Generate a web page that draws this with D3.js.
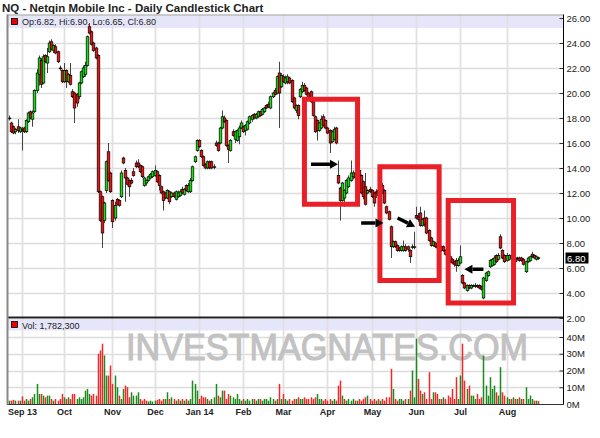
<!DOCTYPE html>
<html><head><meta charset="utf-8">
<script src="https://cdn.jsdelivr.net/npm/d3@7"></script>
<style>body{margin:0;background:#fff;} svg{display:block;font-family:"Liberation Sans",Arial,sans-serif;}</style>
</head><body><svg id="c" width="600" height="438"></svg>
<script>
const chartTitle = "NQ - Netqin Mobile Inc - Daily Candlestick Chart";
const opens = [18.0,17.6,17.3,16.9,17.3,16.9,17.1,17.2,16.9,17.7,
18.5,17.9,18.5,20.2,21.5,22.6,20.8,23.0,22.4,23.3,
24.1,23.4,23.7,23.3,22.0,21.8,20.9,21.8,20.9,21.4,
20.1,20.0,19.9,19.7,20.8,21.3,21.5,22.2,25.3,24.9,
24.0,23.6,23.0,12.1,11.7,9.8,12.2,15.3,13.6,11.4,
10.0,11.5,11.4,11.7,14.8,13.8,13.2,13.0,13.0,13.7,
14.4,14.4,14.2,14.1,12.6,12.8,13.0,13.2,13.3,13.4,
13.7,13.4,12.5,12.1,12.0,11.6,12.1,11.7,12.0,11.5,
11.7,11.8,12.3,11.9,12.6,12.1,12.1,13.0,14.5,15.4,
16.2,15.4,14.9,14.3,14.0,14.5,14.5,14.1,16.0,16.0,
16.0,17.2,18.0,17.8,15.8,15.4,16.9,16.3,16.2,16.5,
17.2,17.3,17.0,17.1,17.6,17.9,18.3,18.0,18.1,18.5,
18.3,18.5,19.0,19.1,18.8,19.7,20.2,20.0,21.6,20.5,
21.3,20.8,20.9,21.2,21.0,19.6,18.6,19.0,19.7,20.1,
20.6,20.4,20.0,20.1,19.3,18.1,17.8,17.0,17.2,18.1,
17.8,17.2,17.0,16.1,16.3,17.2,13.4,12.4,11.4,11.6,
12.0,12.5,13.0,13.3,13.6,13.2,13.8,13.4,12.9,12.5,
12.0,12.3,12.2,12.0,12.1,12.2,11.2,12.6,12.2,10.9,
10.5,9.3,7.7,8.1,7.8,7.6,7.4,7.4,7.7,7.7,
7.4,7.7,7.7,10.2,10.1,10.4,9.4,10.0,10.0,9.0,
8.4,7.8,8.0,7.9,7.6,7.7,7.7,7.4,7.2,6.9,
6.7,6.5,6.6,6.2,6.4,5.4,4.8,4.2,4.6,4.4,
4.6,4.6,4.6,4.6,4.5,3.6,5.0,5.4,6.1,6.2,
6.3,7.0,6.7,8.5,7.4,7.0,6.6,6.7,7.0,6.9,
6.8,6.8,6.8,6.8,6.7,5.7,6.5,6.6,7.1,7.0,
6.7,6.82];
const highs = [18.2,17.7,17.4,17.2,17.9,17.3,17.3,17.3,17.9,18.5,
18.6,18.6,20.3,21.9,23.0,22.8,23.1,23.1,23.6,24.2,
24.3,23.9,23.9,23.4,22.2,21.9,22.4,21.9,21.6,22.4,
20.3,20.1,20.0,20.9,21.8,22.2,22.5,24.6,25.6,25.0,
24.1,23.7,23.1,12.2,11.8,11.3,14.6,16.0,13.7,11.5,
11.3,11.6,11.5,13.8,14.9,14.0,13.3,13.1,13.2,14.0,
14.6,14.7,14.3,14.2,13.3,13.1,13.4,13.6,13.8,14.2,
13.8,13.5,12.6,12.2,12.1,12.3,12.2,12.1,12.1,12.2,
12.2,12.3,12.5,12.4,12.7,12.8,13.2,14.2,15.0,16.3,
16.3,15.5,15.0,14.4,14.6,14.6,14.6,14.3,16.2,16.1,
17.3,18.6,18.2,17.9,15.9,16.3,17.1,17.0,17.1,17.4,
17.8,17.4,17.5,17.8,18.2,18.3,18.4,18.4,18.6,18.6,
18.8,18.9,19.1,19.3,19.8,20.1,20.4,21.4,22.5,21.6,
21.5,21.4,21.5,21.3,21.1,19.7,19.1,19.1,20.4,20.9,
20.8,20.5,20.1,20.2,19.4,18.2,17.9,17.7,18.2,18.3,
17.9,17.3,17.1,17.0,17.3,17.3,14.6,12.5,12.9,12.3,
13.1,13.4,14.6,13.8,13.8,14.0,14.1,13.5,13.0,13.6,
12.3,12.5,12.3,12.1,12.3,12.4,12.3,12.8,12.3,11.0,
10.6,9.4,8.2,8.2,7.9,7.7,7.8,8.2,7.9,7.8,
7.5,7.9,8.9,10.9,10.4,10.9,10.0,10.6,10.1,9.1,
8.5,8.2,8.1,8.0,7.8,7.8,7.8,7.5,7.3,7.0,
6.8,6.6,6.8,6.8,7.8,5.5,4.9,4.7,4.7,4.7,
4.7,4.8,4.7,4.7,4.6,5.3,5.7,5.8,6.7,6.8,
7.0,7.1,7.2,8.7,7.5,7.1,7.2,7.1,7.1,7.1,
6.9,6.9,6.9,6.9,6.8,6.6,6.9,7.0,7.3,7.1,
7.0,6.90];
const lows = [17.8,16.8,16.7,16.7,16.8,16.8,15.4,16.8,16.8,17.6,
17.9,17.3,18.4,20.0,20.6,20.4,20.7,22.4,21.6,23.2,
23.4,23.2,23.1,22.4,21.8,20.8,20.8,20.4,20.8,20.6,
19.6,17.6,18.9,19.5,20.7,21.2,21.3,22.1,24.7,23.8,
23.3,22.7,12.0,9.7,7.6,9.6,12.0,12.9,12.0,9.2,
9.8,11.0,10.9,11.6,14.3,11.3,12.6,11.7,12.7,13.3,
14.0,14.0,13.6,13.2,12.5,12.6,12.9,13.1,13.2,13.3,
12.8,12.2,11.9,10.6,11.5,11.5,11.1,11.6,11.6,11.4,
11.6,11.7,11.9,11.8,12.1,12.0,12.0,12.9,14.4,15.3,
15.6,14.8,14.1,13.9,13.9,13.9,13.9,13.9,15.7,15.3,
15.9,17.1,17.6,15.7,14.4,15.3,16.5,16.0,16.1,15.9,
17.1,16.8,16.6,17.0,17.5,17.7,17.9,17.9,18.0,18.1,
18.2,18.4,18.7,18.8,18.7,19.6,19.8,19.9,17.2,20.4,
20.8,20.7,20.7,20.7,19.2,18.7,18.4,17.9,19.6,20.0,
20.1,19.8,19.4,19.2,18.1,16.8,16.2,16.9,17.1,17.3,
17.1,16.7,15.2,16.0,16.2,15.9,12.7,9.8,11.3,10.9,
11.9,12.4,12.9,13.1,13.0,13.0,13.3,11.9,11.5,11.0,
11.9,12.0,11.6,10.9,11.6,11.6,11.1,11.9,11.1,10.3,
9.8,6.8,7.6,7.6,7.3,7.3,7.3,7.3,7.3,7.3,
6.4,7.5,7.5,9.9,9.7,9.3,9.3,9.3,8.7,8.1,
7.7,7.7,7.6,7.5,7.4,7.3,7.3,7.0,6.9,6.4,
6.3,6.1,5.7,6.1,6.3,4.7,4.3,4.1,4.3,4.3,
4.5,4.4,4.4,4.3,4.2,3.5,4.9,5.3,6.0,6.1,
6.2,6.4,6.6,7.5,6.7,6.4,6.5,6.6,6.7,6.7,
6.4,6.6,6.5,6.5,6.2,5.6,6.4,6.5,6.8,6.7,
6.6,6.65];
const closes = [18.0,16.9,16.8,17.1,17.0,17.2,17.0,16.9,17.8,18.4,
18.0,18.4,20.2,21.6,22.8,20.7,22.9,22.5,22.9,24.0,
23.5,23.8,23.2,22.5,22.0,20.9,21.8,20.9,21.5,20.7,
19.7,18.8,19.2,20.8,21.7,22.0,22.2,24.5,24.8,23.9,
23.4,22.8,12.1,9.8,8.8,11.2,14.5,13.0,12.1,9.7,
11.0,11.1,11.0,13.6,14.4,13.2,12.7,12.5,12.8,13.4,
14.1,14.1,13.7,13.3,13.2,13.0,13.3,13.5,13.7,13.8,
12.9,12.6,12.0,11.4,11.6,12.2,11.3,12.0,11.7,12.1,
12.0,12.1,12.0,12.3,12.2,12.6,13.0,14.1,14.9,16.2,
15.7,14.9,14.2,14.0,14.5,14.0,14.0,14.1,15.8,15.4,
17.2,18.1,17.7,15.8,15.5,16.2,16.6,16.9,17.0,17.2,
17.6,16.9,17.4,17.7,18.1,18.2,18.0,18.3,18.5,18.2,
18.7,18.8,18.8,18.9,19.7,20.0,19.9,21.3,20.0,21.4,
20.9,21.2,21.3,20.8,19.3,18.8,19.0,18.2,20.3,20.6,
20.2,19.9,19.5,19.3,18.2,16.9,17.0,17.6,17.9,17.4,
17.2,16.8,16.0,16.9,17.1,16.0,12.8,11.4,12.8,12.2,
13.0,13.2,13.6,13.6,13.2,13.8,13.4,12.0,11.7,11.1,
12.2,12.1,11.7,11.2,12.0,11.8,12.2,12.0,11.2,10.4,
9.9,7.7,8.1,7.7,7.4,7.4,7.7,7.7,7.4,7.5,
6.9,7.7,7.7,10.0,9.9,9.4,9.9,9.5,8.8,8.2,
7.8,8.1,7.7,7.6,7.6,7.4,7.4,7.1,7.0,6.5,
6.4,6.3,6.2,6.6,6.9,4.8,4.4,4.6,4.4,4.6,
4.6,4.6,4.5,4.4,4.3,5.2,5.6,5.7,6.6,6.7,
6.8,6.5,7.0,7.6,6.8,6.5,7.0,7.0,6.8,6.9,
6.5,6.8,6.6,6.6,6.3,6.5,6.8,6.9,6.9,6.8,
6.9,6.80];
// volume in millions of shares
const volumes = [2,2,2.5,2,2,2,4.5,2,3,2,
3,4,6,12,6,6,5,4,5,5,
3,2,3,2,3,6,4,3,4,3,
6,6,3,4,3,4,8,9,6,5,
6,5,30,32,36,29,17,17,23,12,
17,10,5,3,9,11,10,4,7,5,
5,7,3,2,3,2,1.5,2,1.5,2,
2.5,3,2,3,3,7,3,4,3,2,
3,2,3,2,3,2,3,14,12,8,
3,5,4,4,3,2,3,4,12,5,
4,8,8,3,6,5,4,3,6,3,
2,3,2,3,2,3,3,2,3,3,
2,3,3,2,4,3,2,3,12,3,
6,3,2,3,2,3,3,4,3,3,
4,3,3,4,3,4,6,3,3,2,
3,2,3,2,3,2,11,14,5,3,
2,3,2,3,2,2,3,2,3,4,
5,3,2,3,2,3,2,3,2,4,
4,21,9,3,2,3,3,2,3,3,
8,20,4,39,15,8,6,7,3,19,
3,7,7,6,3,3,4,3,5,4,
9,3,16,3,17,36,14,9,11,5,
5,3,6,3,4,29,11,5,16,9,
11,7,5,22,7,5,4,3,3,4,
3,3,4,3,3,10,3,5,3,2,
2,1.7823];
const monthLabels = ["Sep 13","Oct","Nov","Dec","Jan 14","Feb","Mar","Apr","May","Jun","Jul","Aug"];
const monthStartIndex = [6,26,49,69,90,111,130,151,172,193,214,236];
const priceTicks = [2,4,6,8,10,12,14,16,18,20,22,24,26];
const volumeTicks = [0,10,20,30,40];
const lastOpen = 6.82, lastHigh = 6.90, lastLow = 6.65, lastClose = 6.80, lastVolume = 1782300;
// annotation boxes: [startIndex, endIndex, topPrice, bottomPrice]
const boxStart = [140.1, 175.9, 208.3];
const boxEnd = [165.3, 204.0, 239.3];
const boxTop = [19.5, 14.1, 11.4];
const boxBottom = [11.1, 5.0, 3.2];
// arrows: from (index, price) to (index, price)
const arrowFromI = [143.2, 167.0, 184.3, 225.0];
const arrowFromP = [14.3, 9.6, 10.0, 5.9];
const arrowToI = [156.0, 177.6, 192.6, 216.0];
const arrowToP = [14.3, 9.6, 9.3, 5.9];
const watermark = "INVESTMAGNATES.COM";

const svg = d3.select("#c");
const plotL = 7, plotR = 563.5;
const x = d3.scaleLinear().domain([-1, 263]).range([plotL, plotR]);
const y = d3.scaleLinear().domain([2, 26]).range([318, 18]);
const yv = d3.scaleLinear().domain([0, 40]).range([404, 337]);
const mainTop = 15.5, mainBot = 317.5, volBot = 404.5;
const GREEN = "#17e017", RED = "#f01010";

const data = d3.range(closes.length).map(i => ({
  i, o: opens[i], h: highs[i], l: lows[i], c: closes[i], v: volumes[i],
  volUp: i === 0 ? closes[i] >= opens[i] : closes[i] >= closes[i-1]
}));
const px = i => Math.round(x(i)) + 0.5;

// background
svg.append("rect").attr("width",600).attr("height",438).attr("fill","#fff");
// legend bands
svg.append("rect").attr("x",8).attr("y",mainTop).attr("width",plotR-8).attr("height",12.5).attr("fill","#e6e6fb");
svg.append("rect").attr("x",8).attr("y",319).attr("width",plotR-8).attr("height",11.5).attr("fill","#e6e6fb");

// horizontal grid
svg.append("g").selectAll("line").data(priceTicks.filter(t => t > 2 && t < 26)).join("line")
  .attr("x1",8).attr("x2",plotR).attr("y1",d => Math.round(y(d))+0.5).attr("y2",d => Math.round(y(d))+0.5)
  .attr("stroke","#dcdcdc").attr("stroke-width",1.5);
svg.append("g").selectAll("line").data(volumeTicks.filter(t => t > 0)).join("line")
  .attr("x1",8).attr("x2",plotR).attr("y1",d => Math.round(yv(d))+0.5).attr("y2",d => Math.round(yv(d))+0.5)
  .attr("stroke","#dcdcdc").attr("stroke-width",1.5);
// vertical grid
svg.append("g").selectAll("line").data(monthStartIndex).join("line")
  .attr("x1",d => px(d)).attr("x2",d => px(d)).attr("y1",mainTop).attr("y2",volBot)
  .attr("stroke","#e0e0e0").attr("stroke-width",1.8);

// watermark
svg.append("text").attr("x", 327).attr("y", 360).attr("text-anchor","middle")
  .attr("font-size",36).attr("textLength",402).attr("lengthAdjust","spacingAndGlyphs")
  .attr("fill","#c2c2c2").attr("stroke","#c2c2c2").attr("stroke-width",1.1).text(watermark);

// volume bars
svg.append("g").selectAll("rect").data(data).join("rect")
  .attr("x", d => px(d.i) - 0.75).attr("width",1.5)
  .attr("y", d => yv(d.v)).attr("height", d => yv(0) - yv(d.v))
  .attr("fill", d => d.volUp ? "#1c8a1c" : "#f02828");

// candles
const cg = svg.append("g");
data.forEach(d => {
  const g = cg.append("g");
  g.append("line").attr("x1",px(d.i)).attr("x2",px(d.i)).attr("y1",y(d.h)).attr("y2",y(d.l))
    .attr("stroke","#444").attr("stroke-width",1);
  const top = y(Math.max(d.o,d.c)), bot = y(Math.min(d.o,d.c));
  g.append("rect").attr("x",px(d.i)-1.3).attr("width",2.6)
    .attr("y",top).attr("height",Math.max(bot-top,0.8))
    .attr("fill", d.c >= d.o ? GREEN : RED).attr("stroke","#000").attr("stroke-width",0.7);
});

// frame
svg.append("line").attr("x1",plotL).attr("x2",plotR).attr("y1",mainTop-0.5).attr("y2",mainTop-0.5).attr("stroke","#999");
svg.append("line").attr("x1",plotL).attr("x2",plotR).attr("y1",mainBot).attr("y2",mainBot).attr("stroke","#222").attr("stroke-width",2);
svg.append("line").attr("x1",plotL).attr("x2",plotR).attr("y1",volBot).attr("y2",volBot).attr("stroke","#333").attr("stroke-width",1);
svg.append("line").attr("x1",plotL+0.5).attr("x2",plotL+0.5).attr("y1",mainTop-1).attr("y2",volBot).attr("stroke","#888").attr("stroke-width",2);

// right axes
const ax = svg.append("g").attr("transform",`translate(${plotR},0)`)
  .call(d3.axisRight(y).tickValues(priceTicks).tickFormat(d3.format(".2f")).tickSizeInner(-4).tickSizeOuter(0).tickPadding(3));
const axv = svg.append("g").attr("transform",`translate(${plotR},0)`)
  .call(d3.axisRight(yv).tickValues(volumeTicks).tickFormat(d => d + "M").tickSizeInner(-4).tickSizeOuter(0).tickPadding(3));
[ax, axv].forEach(a => {
  a.select(".domain").remove();
  a.selectAll("text").attr("font-size",9.5).attr("font-family","Liberation Sans, Arial, sans-serif").attr("fill","#222");
  a.selectAll("line").attr("stroke","#333");
});
svg.append("line").attr("x1",plotR).attr("x2",plotR).attr("y1",mainTop-1).attr("y2",volBot).attr("stroke","#000");

// last price marker
const lastY = y(lastClose);
svg.append("rect").attr("x",plotR+2).attr("y",lastY-5.5).attr("width",23).attr("height",11).attr("fill","#000");
svg.append("text").attr("x",plotR+3.5).attr("y",lastY+3.5).attr("font-size",9.5).attr("fill","#fff").text(d3.format(".2f")(lastClose));

// month labels
svg.append("g").selectAll("text").data(monthStartIndex).join("text")
  .attr("x", d => px(d)).attr("y", 415).attr("text-anchor","middle")
  .attr("font-size",9).attr("font-weight","bold").attr("fill","#222")
  .text((d,k) => monthLabels[k]);

// title & legends
svg.append("text").attr("x",2).attr("y",12).attr("font-size",11.5).attr("font-weight","bold").attr("fill","#222").text(chartTitle);
svg.append("rect").attr("x",11.5).attr("y",18.5).attr("width",6).attr("height",6).attr("fill","#e00").attr("stroke","#000").attr("stroke-width",0.8);
svg.append("text").attr("x",22).attr("y",25).attr("font-size",9).attr("fill","#222")
  .text(`Op:${lastOpen.toFixed(2)}, Hi:${lastHigh.toFixed(2)}, Lo:${lastLow.toFixed(2)}, Cl:${lastClose.toFixed(2)}`);
svg.append("rect").attr("x",11.5).attr("y",321.5).attr("width",6).attr("height",6).attr("fill","#e00").attr("stroke","#000").attr("stroke-width",0.8);
svg.append("text").attr("x",22).attr("y",328.5).attr("font-size",9).attr("fill","#222")
  .text(`Vol: ${d3.format(",")(lastVolume)}`);

// annotation boxes
svg.append("g").selectAll("rect").data(boxStart).join("rect")
  .attr("x",(d,k) => x(boxStart[k])).attr("y",(d,k) => y(boxTop[k]))
  .attr("width",(d,k) => x(boxEnd[k]) - x(boxStart[k])).attr("height",(d,k) => y(boxBottom[k]) - y(boxTop[k]))
  .attr("fill","none").attr("stroke","#ea2028").attr("stroke-width",5);

// arrows
arrowFromI.forEach((fi,k) => {
  const x0 = x(fi), y0 = y(arrowFromP[k]), x1 = x(arrowToI[k]), y1 = y(arrowToP[k]);
  const len = Math.hypot(x1-x0, y1-y0), ux = (x1-x0)/len, uy = (y1-y0)/len;
  const hl = 8, hw = 4.5;
  const bx = x1 - ux*hl, by = y1 - uy*hl;
  svg.append("line").attr("x1",x0).attr("y1",y0).attr("x2",bx).attr("y2",by).attr("stroke","#000").attr("stroke-width",3.5);
  svg.append("path").attr("d",`M${x1},${y1}L${bx - uy*hw},${by + ux*hw}L${bx + uy*hw},${by - ux*hw}Z`).attr("fill","#000");
});
</script></body></html>
